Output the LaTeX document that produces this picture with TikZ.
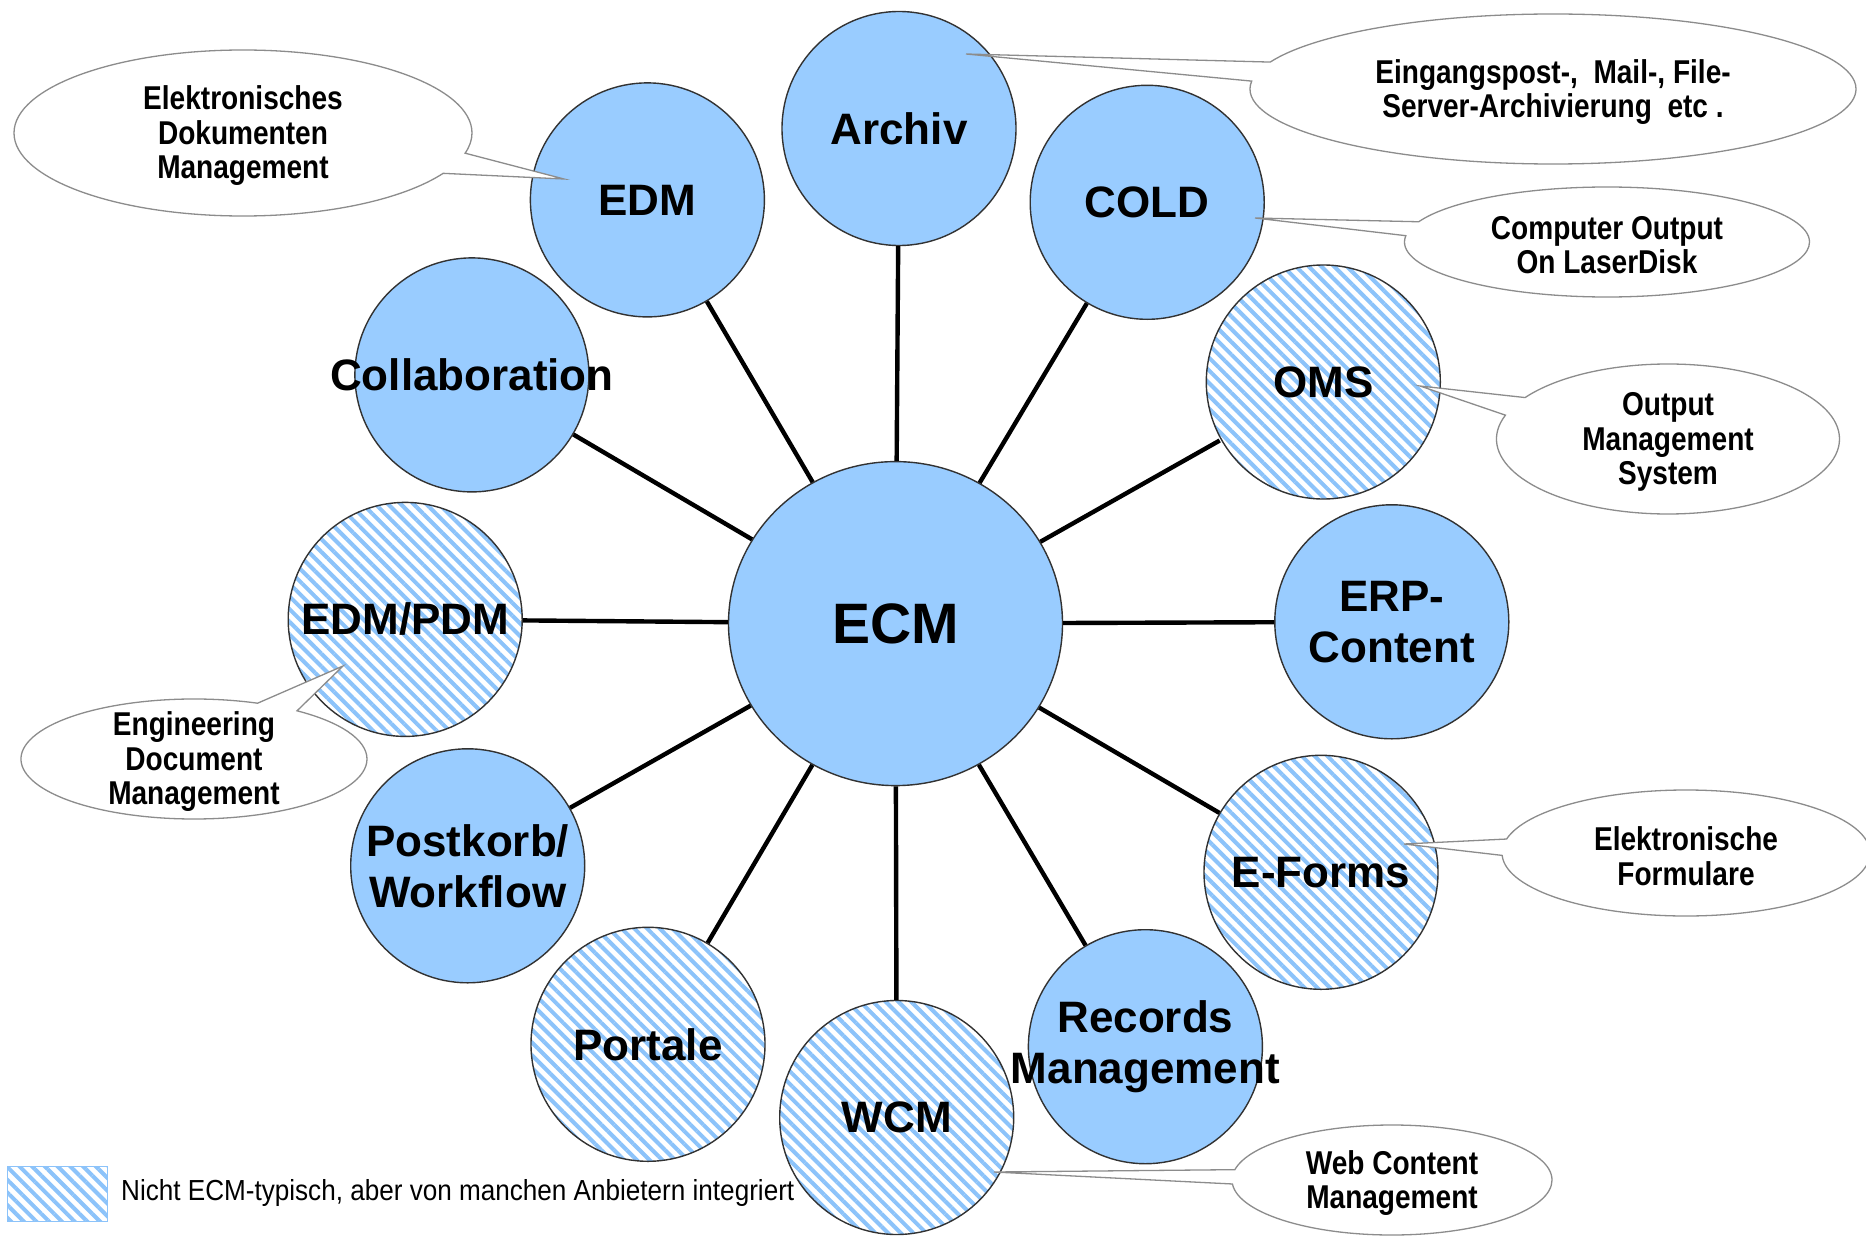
\documentclass[tikz,border=0pt]{standalone}
\usepackage{fontspec}
\setmainfont{Liberation Sans}
\newfontfamily\calloutfont[FakeStretch=0.85]{Liberation Sans}
\newfontfamily\legendfont[FakeStretch=0.9]{Liberation Sans}
\usetikzlibrary{shapes.geometric,shapes.callouts,patterns.meta}
\definecolor{ecmblue}{RGB}{153,204,255}
\definecolor{hatchblue}{RGB}{140,195,250}
\definecolor{bubblegray}{RGB}{140,140,140}
\definecolor{rimgray}{RGB}{50,50,50}
\newcommand\zw[1]{\makebox[0pt]{#1}}
\tikzset{
 topic/.style={circle, minimum size=234pt, inner sep=0pt, draw=rimgray, line width=1.4pt,
   font=\bfseries\fontsize{44}{51}\selectfont, align=center},
 plaintopic/.style={topic, fill=ecmblue},
 hatchfill/.style={preaction={fill=white}, pattern={Lines[angle=-45,distance=9pt,line width=4pt]}, pattern color=hatchblue},
 hatchtopic/.style={topic, hatchfill},
 spoke/.style={line width=4.4pt, black},
 bubble/.style={ellipse callout, draw=bubblegray, line width=1.3pt, fill=white, inner sep=0pt, callout pointer arc=15},
 bubbletext/.style={font=\calloutfont\bfseries\fontsize{33}{34.5}\selectfont, align=center, inner sep=0pt, yshift=-3pt},
}
\begin{document}
\begin{tikzpicture}[x=1pt,y=-1pt]
\fill[white] (0,0) rectangle (1866,1236);
\useasboundingbox (0,0) rectangle (1866,1236);

% centre
\node[ellipse, minimum width=334pt, minimum height=324pt, inner sep=0pt, draw=rimgray, line width=1.4pt,
  fill=ecmblue, font=\bfseries\fontsize{57}{60}\selectfont] (ecm) at (895.5,623.6) {ECM};

% topics
\node[plaintopic] (archiv)   at (899,128.5)   {\zw{Archiv}};
\node[plaintopic] (edm)      at (647.4,199.9) {\zw{EDM}};
\node[plaintopic] (cold)     at (1147.2,202.3){\zw{COLD}};
\node[plaintopic] (collab)   at (471.9,374.9) {\zw{Collaboration}};
\node[hatchtopic] (oms)      at (1323.3,382)  {\zw{OMS}};
\node[hatchtopic] (edmpdm)   at (405.2,619.4) {\zw{EDM/PDM}};
\node[plaintopic] (erp)      at (1391.8,621.8){\zw{ERP-}\\\zw{Content}};
\node[plaintopic] (postkorb) at (467.7,865.8) {\zw{Postkorb/}\\\zw{Workflow}};
\node[hatchtopic] (eforms)   at (1321,872.3)  {\zw{E-Forms}};
\node[hatchtopic] (portale)  at (648,1044.3)  {\zw{Portale}};
\node[hatchtopic] (wcm)      at (896.7,1117.5){\zw{WCM}};
\node[plaintopic] (records)  at (1145.4,1046.7){\zw{Records}\\\zw{Management}};

% spokes
\foreach \n in {archiv,edm,cold,collab,oms,edmpdm,erp,postkorb,eforms,portale,wcm,records}
  \draw[spoke] (ecm) -- (\n);

% callouts
\node[bubble, minimum width=458pt, minimum height=166pt, callout absolute pointer={(564,179)},
  label={[bubbletext]center:Elektronisches\\Dokumenten\\Management}] (cedm) at (243,133) {};
\node[bubble, minimum width=606pt, minimum height=150pt, callout absolute pointer={(966,54)},
  label={[bubbletext]center:Eingangspost-,\ \ Mail-, File-\\Server-Archivierung\ \ etc .}] (carchiv) at (1553,89) {};
\node[bubble, minimum width=405pt, minimum height=110pt, callout absolute pointer={(1255,218)},
  label={[bubbletext]center:Computer Output\\On LaserDisk}] (ccold) at (1607,242) {};
\node[bubble, minimum width=343pt, minimum height=150pt, callout absolute pointer={(1420,386)},
  label={[bubbletext]center:Output\\Management\\System}] (coms) at (1668,439) {};
\node[bubble, minimum width=368pt, minimum height=126pt, callout absolute pointer={(1404,844)},
  label={[bubbletext]center:Elektronische\\Formulare}] (ceforms) at (1686,853) {};
\node[bubble, minimum width=320pt, minimum height=110pt, callout absolute pointer={(994,1172)},
  label={[bubbletext]center:Web Content\\Management}] (cwcm) at (1392,1180) {};
\node[bubble, minimum width=346pt, minimum height=120pt, callout absolute pointer={(343,666)},
  label={[bubbletext]center:Engineering\\Document\\Management}] (cedmpdm) at (194,759) {};

% legend
\node[rectangle, minimum width=100pt, minimum height=55pt, inner sep=0pt, draw=hatchblue, line width=1pt, hatchfill]
  (legendbox) at (57,1193.5) {};
\node[anchor=west, inner sep=0pt, font=\legendfont\fontsize{29}{30}\selectfont] (legendtext) at (121,1193)
  {Nicht ECM-typisch, aber von manchen Anbietern integriert};
\end{tikzpicture}
\end{document}
